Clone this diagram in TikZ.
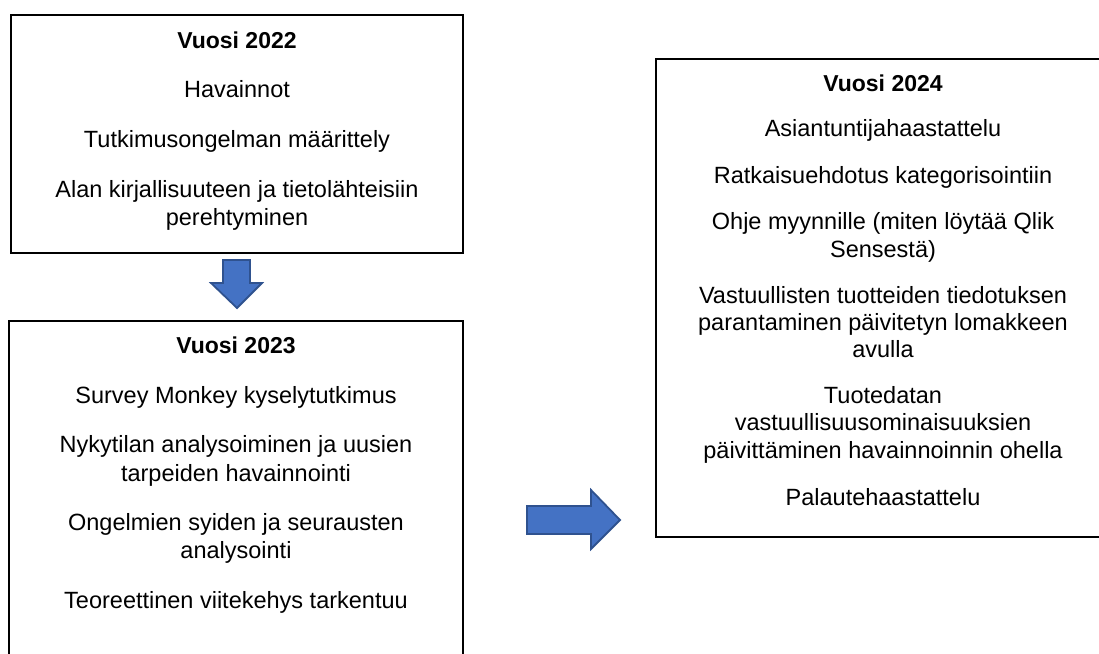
\documentclass[tikz,border=0pt]{standalone}
\usepackage{fontspec}
\setmainfont{Liberation Sans}
\begin{document}
\begin{tikzpicture}[x=1pt,y=-1pt]

            % Colours
            \definecolor{arrowfill}{RGB}{68, 114, 196}  % blue of the block arrows
            \definecolor{arrowline}{RGB}{47, 82, 143}   % darker edge

            \tikzset{
                yearbox/.style={draw=black, line width=2.8pt},
                item/.style={anchor=base, inner sep=0pt, font=\fontsize{23.5}{28}\selectfont},
                yeartitle/.style={item, font=\fontsize{23}{28}\selectfont\bfseries},
                blockarrow/.style={fill=arrowfill, draw=arrowline, line width=1.8pt, line join=miter}
            }

            % 0. Page
            \clip (0,0) rectangle (1099,653);
            \fill[white] (0,0) rectangle (1099,653);

            % 1. Boxes (the lower left and the right one run off the page)
            \draw[yearbox] (11,15) rectangle (463,253);
            \draw[yearbox] (9,321) rectangle (463,690);
            \draw[yearbox] (656,59) rectangle (1120,537);

            % 2. Year 2022
            \node[yeartitle] (y22) at (237,48) {Vuosi 2022};
            \foreach \i/\y/\txt in {1/97/{Havainnot},
                                    2/147/{Tutkimusongelman määrittely},
                                    3/197/{Alan kirjallisuuteen ja tietolähteisiin},
                                    4/225/{perehtyminen}}
                \node[item] (y22-\i) at (237,\y) {\txt};

            % 3. Year 2023
            \node[yeartitle] (y23) at (236,353) {Vuosi 2023};
            \foreach \i/\y/\txt in {1/403/{Survey Monkey kyselytutkimus},
                                    2/452/{Nykytilan analysoiminen ja uusien},
                                    3/481/{tarpeiden havainnointi},
                                    4/530/{Ongelmien syiden ja seurausten},
                                    5/558/{analysointi},
                                    6/608/{Teoreettinen viitekehys tarkentuu}}
                \node[item] (y23-\i) at (236,\y) {\txt};

            % 4. Year 2024
            \node[yeartitle] (y24) at (883,91) {Vuosi 2024};
            \foreach \i/\y/\txt in {1/136/{Asiantuntijahaastattelu},
                                    2/183/{Ratkaisuehdotus kategorisointiin},
                                    3/229/{Ohje myynnille (miten löytää Qlik},
                                    4/257/{Sensestä)},
                                    5/303/{Vastuullisten tuotteiden tiedotuksen},
                                    6/330/{parantaminen päivitetyn lomakkeen},
                                    7/357/{avulla},
                                    8/403/{Tuotedatan},
                                    9/430/{vastuullisuusominaisuuksien},
                                    10/458/{päivittäminen havainnoinnin ohella},
                                    11/505/{Palautehaastattelu}}
                \node[item] (y24-\i) at (883,\y) {\txt};

            % 5. Block arrows
            \draw[blockarrow] (223,260) -- (250,260) -- (250,283) -- (262,283)
                -- (237,308) -- (211,283) -- (223,283) -- cycle;
            \draw[blockarrow] (527,506) -- (591,506) -- (591,490) -- (620,520)
                -- (591,549) -- (591,534) -- (527,534) -- cycle;

\end{tikzpicture}
\end{document}
